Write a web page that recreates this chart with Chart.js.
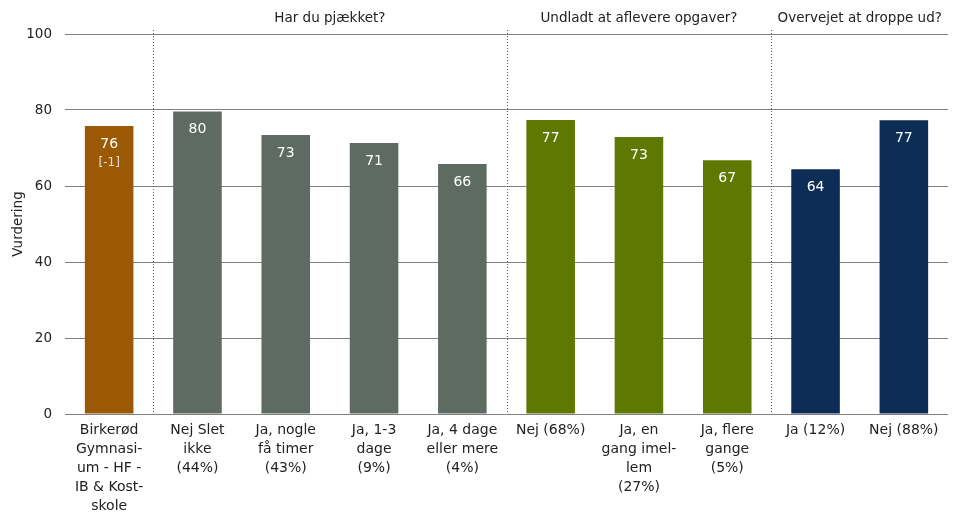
<!DOCTYPE html>
<html>
<head>
<meta charset="utf-8">
<script src="https://cdn.jsdelivr.net/npm/chart.js@4"></script>
<style>
  body { margin: 0; background: #fff; }
  #wrap { width: 958px; height: 513px; }
</style>
</head>
<body>
<div id="wrap"><canvas id="myChart" width="958" height="513"></canvas></div>
<script>
const categories = [
    ['Birkerød', 'Gymnasi-', 'um - HF -', 'IB & Kost-', 'skole'],
    ['Nej Slet', 'ikke', '(44%)'],
    ['Ja, nogle', 'få timer', '(43%)'],
    ['Ja, 1-3', 'dage', '(9%)'],
    ['Ja, 4 dage', 'eller mere', '(4%)'],
    ['Nej (68%)'],
    ['Ja, en', 'gang imel-', 'lem', '(27%)'],
    ['Ja, flere', 'gange', '(5%)'],
    ['Ja (12%)'],
    ['Nej (88%)']
];
const values = [75.8, 79.6, 73.4, 71.3, 65.8, 77.4, 72.9, 66.8, 64.4, 77.3];
const changes = ['[-1]', null, null, null, null, null, null, null, null, null];
const barColors = ['#9b5905', '#5e6b63', '#5e6b63', '#5e6b63', '#5e6b63',
                   '#5f7801', '#5f7801', '#5f7801', '#0c2d55', '#0c2d55'];
const groups = [
    { title: 'Har du pjækket?', from: 1, to: 4 },
    { title: 'Undladt at aflevere opgaver?', from: 5, to: 7 },
    { title: 'Overvejet at droppe ud?', from: 8, to: 9 }
];
const yTicks = [0, 20, 40, 60, 80, 100];

const FONT = 'DejaVu Sans';

// separators, group headers and value labels
const extras = {
    id: 'extras',
    afterDatasetsDraw(chart) {
        const ctx = chart.ctx;
        const x = chart.scales.x;
        const area = chart.chartArea;
        const step = x.getPixelForValue(1) - x.getPixelForValue(0);
        ctx.save();
        // dotted separators
        ctx.strokeStyle = '#555';
        ctx.lineWidth = 1;
        ctx.setLineDash([1, 2]);
        groups.forEach(g => {
            const px = Math.round(x.getPixelForValue(g.from) - step / 2) + 0.5;
            ctx.beginPath();
            ctx.moveTo(px, area.top - 4);
            ctx.lineTo(px, area.bottom);
            ctx.stroke();
        });
        ctx.setLineDash([]);
        // headers
        ctx.fillStyle = '#222';
        ctx.font = '13.5px ' + FONT;
        ctx.textAlign = 'center';
        ctx.textBaseline = 'middle';
        groups.forEach(g => {
            const l = x.getPixelForValue(g.from) - step / 2;
            const r = x.getPixelForValue(g.to) + step / 2;
            ctx.fillText(g.title, (l + r) / 2, 18);
        });
        // value labels
        const meta = chart.getDatasetMeta(0);
        meta.data.forEach((bar, i) => {
            ctx.fillStyle = '#fff';
            ctx.font = '14px ' + FONT;
            ctx.fillText(Math.round(values[i]), bar.x, bar.y + 18);
            if (changes[i]) {
                ctx.fillStyle = 'rgba(255,255,255,0.8)';
                ctx.font = '12px ' + FONT;
                ctx.fillText(changes[i], bar.x, bar.y + 37);
            }
        });
        ctx.restore();
    }
};

const ctx = document.getElementById('myChart').getContext('2d');
const chart = new Chart(ctx, {
    type: 'bar',
    data: {
        labels: categories,
        datasets: [{
            data: values,
            backgroundColor: barColors,
            borderWidth: 0,
            categoryPercentage: 1,
            barPercentage: 0.55
        }]
    },
    options: {
        responsive: false,
        animation: false,
        layout: { padding: { top: 34, right: 10, left: 0, bottom: 0 } },
        plugins: {
            legend: { display: false },
            tooltip: { enabled: false }
        },
        scales: {
            x: {
                grid: { display: false, drawTicks: false },
                border: { display: false },
                afterFit: axis => { axis.height = 99; },
                ticks: {
                    color: '#222',
                    font: { family: FONT, size: 14, lineHeight: 1.36 },
                    maxRotation: 0,
                    autoSkip: false,
                    padding: 7
                }
            },
            y: {
                min: 0,
                max: 100,
                afterBuildTicks: axis => { axis.ticks = yTicks.map(v => ({ value: v })); },
                afterFit: axis => { axis.width = 65; },
                grid: { color: '#808080', lineWidth: 1, drawTicks: false },
                border: { display: false },
                ticks: {
                    color: '#222',
                    font: { family: FONT, size: 13.5 },
                    padding: 13
                },
                title: {
                    display: true,
                    text: 'Vurdering',
                    color: '#222',
                    font: { family: FONT, size: 13.5 },
                    padding: { top: 10, bottom: 4 }
                }
            }
        }
    },
    plugins: [extras]
});
</script>
</body>
</html>
